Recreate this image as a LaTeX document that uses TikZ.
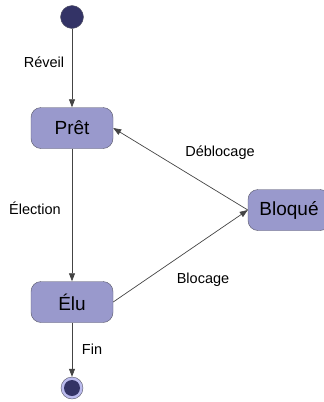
\documentclass[tikz,border=0pt]{standalone}
\usepackage{fontspec}
\setmainfont{Liberation Sans}
\usepackage{tikz}
\usetikzlibrary{positioning}
\usetikzlibrary{arrows.meta}
\definecolor{etatfill}{HTML}{9999CC}
\definecolor{etatline}{HTML}{555566}
\definecolor{pointfill}{HTML}{333366}
\definecolor{ringfill}{HTML}{BBBBEE}
\definecolor{trait}{HTML}{444444}
\tikzset{>={Triangle[length=8pt,width=6pt]}}
\tikzstyle{etat}=[draw=etatline,fill=etatfill,rounded corners=10pt,minimum width=82pt,minimum height=41pt,font=\fontsize{19}{22}\selectfont,inner sep=0pt]
\tikzstyle{trans}=[->,trait,line width=0.7pt]
\tikzstyle{lbl}=[font=\fontsize{14.5}{17}\selectfont,text=black]

\begin{document}
\begin{tikzpicture}[x=1pt,y=-1pt]
\useasboundingbox (0,0) rectangle (324,402);

% Initial and final points
\node[circle,draw=etatline,fill=pointfill,minimum size=23pt,inner sep=0pt] (debut) at (72,17) {};
\node[circle,draw=etatline,fill=ringfill,minimum size=22pt,inner sep=0pt] (fin) at (72,388) {};
\node[circle,fill=pointfill,minimum size=16pt,inner sep=0pt] (finin) at (fin) {};

% States
\node[etat] (pret) at (72,128) {Prêt};
\node[etat] (elu) at (72,302) {Élu};
\node[etat] (bloque) at (289,210) {Bloqué};

% Transitions
\draw[trans] (debut) -- (pret);
\node[lbl] (lreveil) at (44,62) {Réveil};

\draw[trans] (pret) -- (elu);
\node[lbl] (lelection) at (35,208) {Élection};

\draw[trans] (elu) -- (fin);
\node[lbl] (lfin) at (92,349) {Fin};

\draw[trans] (bloque.west) -- (pret.east);
\node[lbl] (ldeblocage) at (220,153) {Déblocage};

\draw[trans] (elu.east) -- (bloque.west);
\node[lbl] (lblocage) at (203,280) {Blocage};

\end{tikzpicture}
\end{document}
